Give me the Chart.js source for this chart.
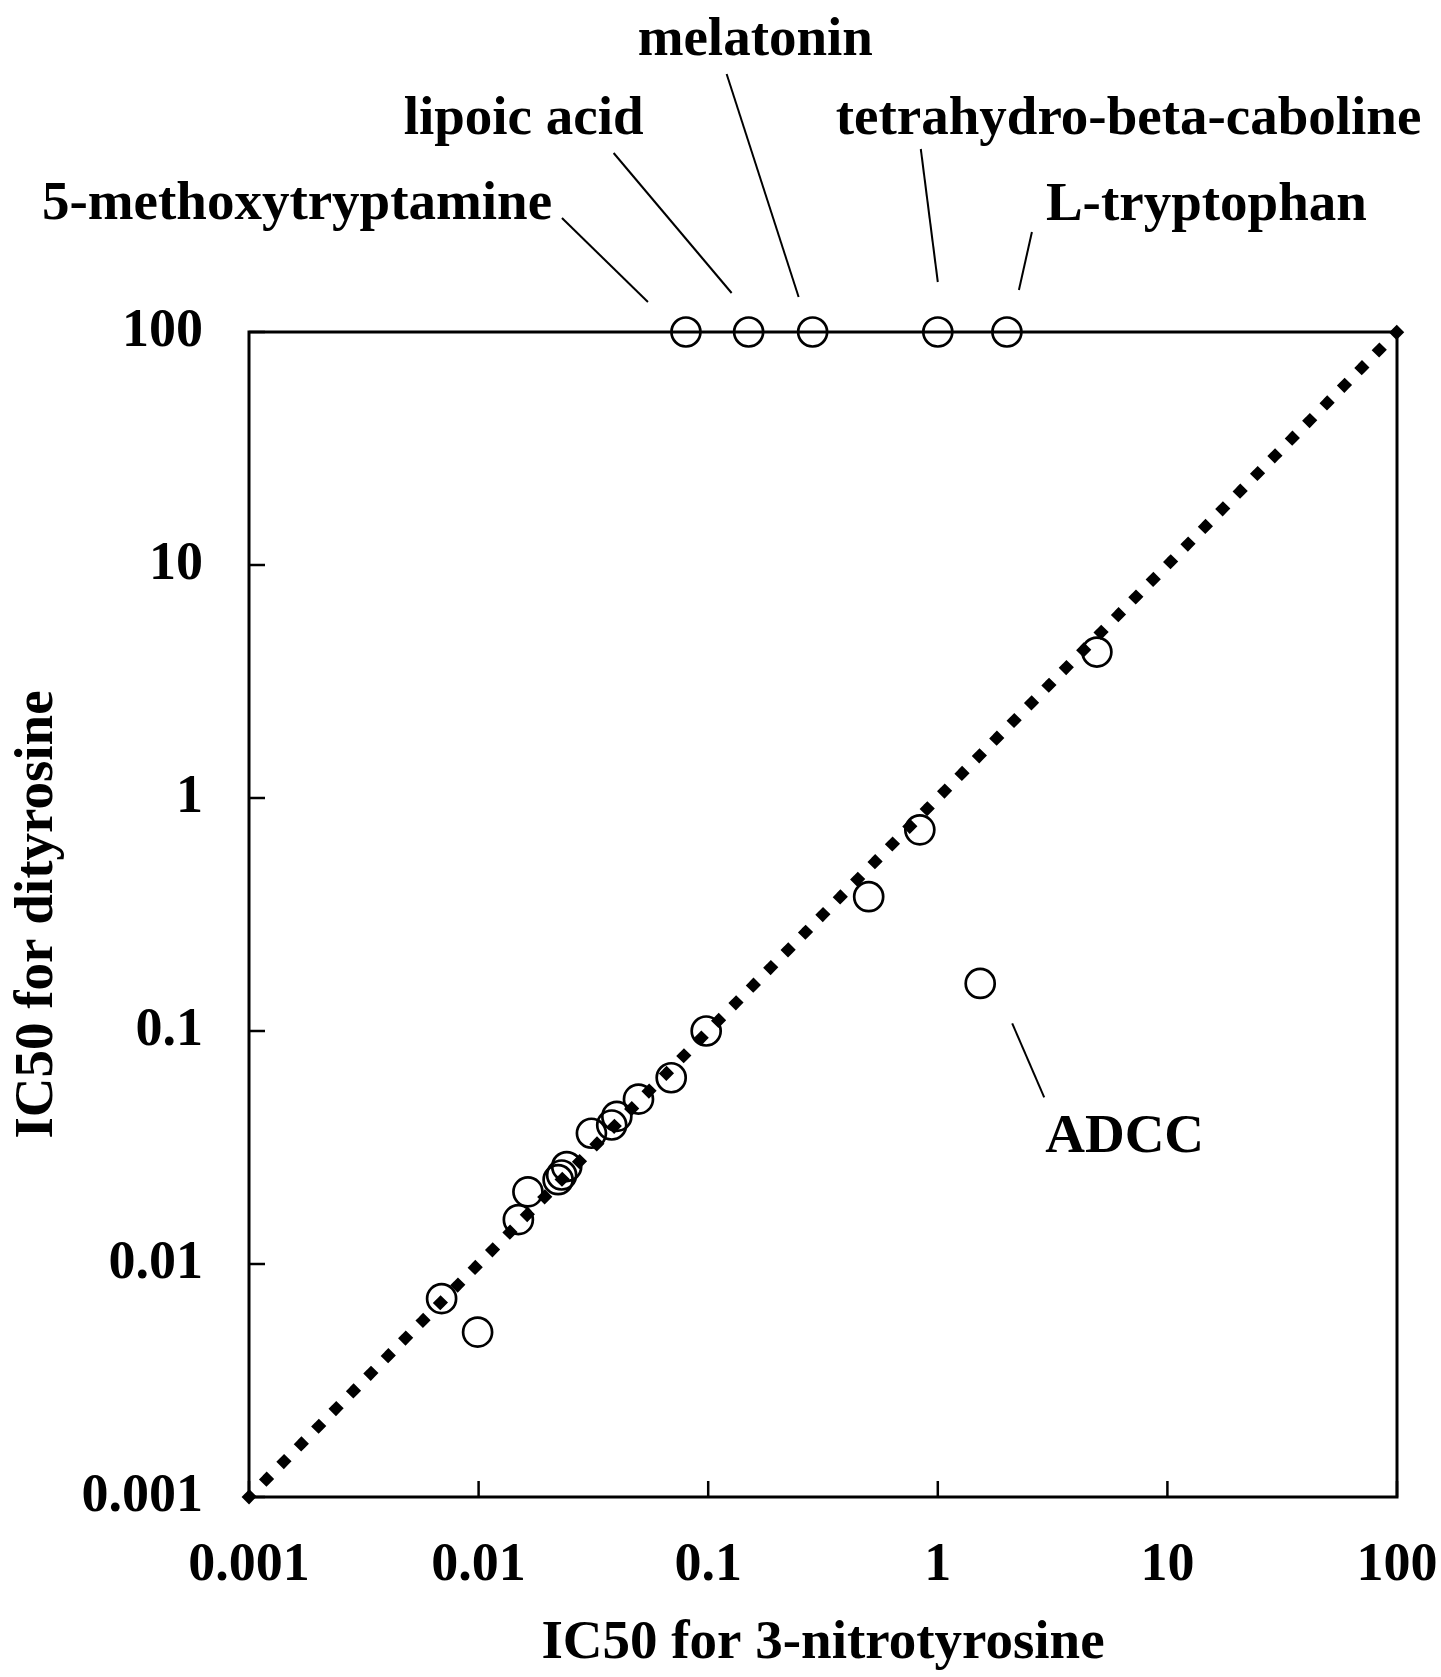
<!DOCTYPE html>
<html><head><meta charset="utf-8">
<script src="https://cdn.jsdelivr.net/npm/chart.js@4.4.1/dist/chart.umd.min.js"></script>
<style>html,body{margin:0;padding:0;background:#fff}#wrap{width:1441px;height:1677px;position:relative}</style>
</head><body><div id="wrap"><canvas id="c"></canvas></div>
<script>
// ---- data ----
const compounds = ['5-methoxytryptamine','lipoic acid','melatonin','tetrahydro-beta-caboline','L-tryptophan',
  'c6','c7','c8','ADCC','c10','c11','c12','c13','c14','c15','c16','c17','c18','c19','c20','c21','c22'];
const nitrotyrosineIC50 = [0.08, 0.15, 0.285, 1.0, 2.0, 4.93, 0.835, 0.5, 1.53, 0.098, 0.069, 0.0497, 0.040, 0.038, 0.031, 0.0242, 0.023, 0.0222, 0.0164, 0.0149, 0.0069, 0.0099];
const dityrosineIC50    = [100, 100, 100, 100, 100, 4.23, 0.73, 0.377, 0.16, 0.1, 0.063, 0.051, 0.043, 0.0395, 0.0364, 0.0262, 0.0241, 0.023, 0.0204, 0.0155, 0.0071, 0.0051];
const diagonalX = [0.001, 100];
const diagonalY = [0.001, 100];
const tickValues = [0.001, 0.01, 0.1, 1, 10, 100];
const tickLabels = ['0.001', '0.01', '0.1', '1', '10', '100'];
const xTitle = 'IC50 for 3-nitrotyrosine';
const yTitle = 'IC50 for dityrosine';
const labelNames = ['5-methoxytryptamine', 'lipoic acid', 'melatonin', 'tetrahydro-beta-caboline', 'L-tryptophan', 'ADCC'];
const labelPointIndex = [0, 1, 2, 3, 4, 8];

// ---- label layout (pixel offsets from the labelled point) ----
const labelLayout = [
  {tx: -644, ty: -113, x1: -124, y1: -114, x2: -38, y2: -30},
  {tx: -345, ty: -198, x1: -135, y1: -179, x2: -17, y2: -39},
  {tx: -175, ty: -277, x1: -86,  y1: -258, x2: -14, y2: -35},
  {tx: -102, ty: -198, x1: -17,  y1: -183, x2: 0,   y2: -50},
  {tx: 39,   ty: -112, x1: 25,   y1: -100, x2: 12,  y2: -42},
  {tx: 65,   ty: 169,  x1: 32,   y1: 40,   x2: 64,  y2: 114}
];

const FONT = '"Liberation Serif", "Times New Roman", serif';

const framePlugin = {
  id: 'frame',
  beforeDatasetsDraw(chart) {
    const {ctx, chartArea: a, scales} = chart;
    ctx.save();
    ctx.strokeStyle = '#000';
    ctx.lineWidth = 3;
    ctx.strokeRect(a.left, a.top, a.right - a.left, a.bottom - a.top);
    ctx.lineWidth = 2.5;
    const tl = 16;
    tickValues.forEach(v => {
      const px = scales.x.getPixelForValue(v);
      ctx.beginPath(); ctx.moveTo(px, a.bottom); ctx.lineTo(px, a.bottom - tl); ctx.stroke();
      const py = scales.y.getPixelForValue(v);
      ctx.beginPath(); ctx.moveTo(a.left, py); ctx.lineTo(a.left + tl, py); ctx.stroke();
    });
    ctx.restore();
  },
  afterDraw(chart) {
    const {ctx, scales} = chart;
    ctx.save();
    ctx.fillStyle = '#000';
    ctx.strokeStyle = '#000';
    ctx.lineWidth = 2;
    ctx.font = 'bold 55px ' + FONT;
    ctx.textAlign = 'left';
    ctx.textBaseline = 'alphabetic';
    labelNames.forEach((name, i) => {
      const idx = labelPointIndex[i];
      const px = scales.x.getPixelForValue(nitrotyrosineIC50[idx]);
      const py = scales.y.getPixelForValue(dityrosineIC50[idx]);
      const L = labelLayout[i];
      ctx.fillText(name, px + L.tx, py + L.ty);
      ctx.beginPath();
      ctx.moveTo(px + L.x1, py + L.y1);
      ctx.lineTo(px + L.x2, py + L.y2);
      ctx.stroke();
    });
    ctx.restore();
  }
};

const tickFont = {family: FONT, size: 54, weight: 'bold'};
const titleFont = {family: FONT, size: 55, weight: 'bold'};

new Chart(document.getElementById('c'), {
  type: 'scatter',
  data: {
    datasets: [
      {
        type: 'line',
        data: diagonalX.map((x, i) => ({x, y: diagonalY[i]})),
        borderColor: '#000',
        borderWidth: 10.5,
        borderDash: [0.5, 24.27],
        borderCapStyle: 'square',
        pointRadius: 0,
        fill: false,
        tension: 0,
        clip: false,
        order: 0
      },
      {
        type: 'scatter',
        data: nitrotyrosineIC50.map((x, i) => ({x, y: dityrosineIC50[i]})),
        pointStyle: 'circle',
        pointRadius: 14.5,
        pointBorderWidth: 2.7,
        borderColor: '#000',
        backgroundColor: 'rgba(0,0,0,0)',
        pointBackgroundColor: 'rgba(0,0,0,0)',
        pointBorderColor: '#000',
        clip: false,
        order: 1
      }
    ]
  },
  options: {
    responsive: true,
    maintainAspectRatio: false,
    animation: false,
    devicePixelRatio: 1,
    layout: {padding: {top: 332, right: 44, left: 0, bottom: 0}},
    plugins: {legend: {display: false}, tooltip: {enabled: false}},
    scales: {
      x: {
        type: 'logarithmic', min: 0.001, max: 100,
        grid: {display: false}, border: {display: false},
        afterBuildTicks: s => { s.ticks = tickValues.map(v => ({value: v})); },
        afterFit: s => { s.height = 180; s.paddingLeft = 0; s.paddingRight = 0; },
        ticks: {autoSkip: false, maxRotation: 0, padding: 29, color: '#000', font: tickFont,
          callback: (v, i) => tickLabels[i]},
        title: {display: true, text: xTitle, color: '#000', font: titleFont, padding: {top: 0, bottom: 0}}
      },
      y: {
        type: 'logarithmic', min: 0.001, max: 100,
        grid: {display: false}, border: {display: false},
        afterBuildTicks: s => { s.ticks = tickValues.map(v => ({value: v})); },
        afterFit: s => { s.width = 249; s.paddingTop = 0; s.paddingBottom = 0; },
        ticks: {autoSkip: false, padding: 38, color: '#000', font: tickFont,
          callback: (v, i) => tickLabels[i]},
        title: {display: true, text: yTitle, color: '#000', font: titleFont, padding: {top: 5, bottom: 0}}
      }
    }
  },
  plugins: [framePlugin]
});
</script>
</body></html>
